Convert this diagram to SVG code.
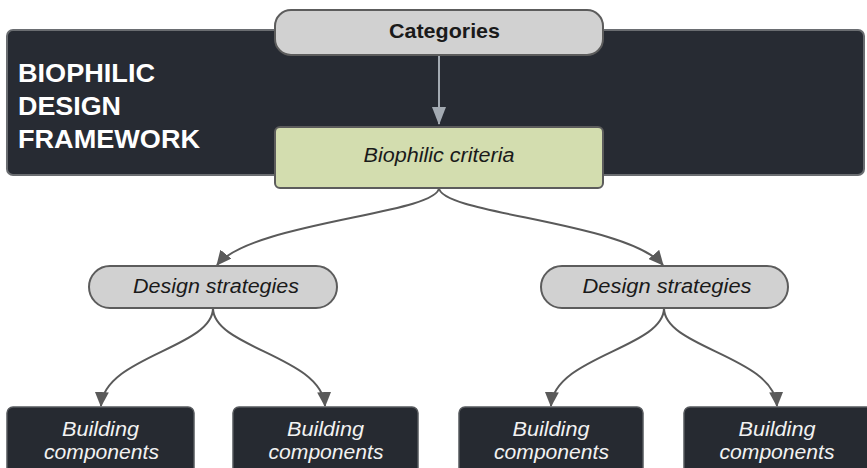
<svg xmlns="http://www.w3.org/2000/svg" width="867" height="468" viewBox="0 0 867 468">
  <style>
    .panel { fill: #272b33; stroke: #6a6d71; stroke-width: 2; }
    .pill { fill: #d1d1d1; stroke: #5c5c5c; stroke-width: 2; }
    .crit { fill: #d3ddaf; stroke: #5c5c5c; stroke-width: 2; }
    .bc { fill: #262a31; stroke: #56595d; stroke-width: 1.5; }
    .title { font-family: "Liberation Sans", Arial, sans-serif; font-weight: bold; font-size: 25px; fill: #ffffff; }
    .bold { font-family: "Liberation Sans", Arial, sans-serif; font-weight: bold; font-size: 20.5px; fill: #1a1a1a; }
    .ital { font-family: "Liberation Sans", Arial, sans-serif; font-style: italic; font-size: 20px; fill: #1a1a1a; }
    .ital-w { font-family: "Liberation Sans", Arial, sans-serif; font-style: italic; font-size: 20.5px; fill: #f2f2f2; }
    .link { fill: none; stroke: #5a5a5a; stroke-width: 2; }
    .link-light { fill: none; stroke: #a3aab2; stroke-width: 2; }
  </style>
  <defs>
    <marker id="arrow" viewBox="0 0 15 14" refX="14" refY="7" markerWidth="15" markerHeight="14" markerUnits="userSpaceOnUse" orient="auto">
      <path d="M0,0 L15,7 L0,14 Z" fill="#5a5a5a"/>
    </marker>
    <marker id="arrow-light" viewBox="0 0 18 14" refX="17" refY="7" markerWidth="18" markerHeight="14" markerUnits="userSpaceOnUse" orient="auto">
      <path d="M0,0 L18,7 L0,14 Z" fill="#a3aab2"/>
    </marker>
  </defs>

  <rect width="867" height="468" fill="#ffffff"/>

  <!-- framework backdrop -->
  <g id="framework">
    <rect class="panel" x="7" y="30" width="857" height="145" rx="6"/>
    <text class="title" x="18" y="82" textLength="137" lengthAdjust="spacingAndGlyphs">BIOPHILIC</text>
    <text class="title" x="18" y="115" textLength="103" lengthAdjust="spacingAndGlyphs">DESIGN</text>
    <text class="title" x="18" y="148" textLength="182" lengthAdjust="spacingAndGlyphs">FRAMEWORK</text>
  </g>

  <!-- connectors -->
  <g id="connectors">
    <path class="link-light" d="M439,55 L439,124" marker-end="url(#arrow-light)"/>
    <path class="link" d="M439,188 C437,214 252,222 217,265" marker-end="url(#arrow)"/>
    <path class="link" d="M439,188 C441,214 626,222 663,265" marker-end="url(#arrow)"/>
    <path class="link" d="M213,308 C213,348 104,356 101,406" marker-end="url(#arrow)"/>
    <path class="link" d="M213,308 C213,348 322,356 325,406" marker-end="url(#arrow)"/>
    <path class="link" d="M664,308 C664,348 554,356 551,406" marker-end="url(#arrow)"/>
    <path class="link" d="M664,308 C664,348 774,356 777,406" marker-end="url(#arrow)"/>
  </g>

  <g id="categories">
    <rect class="pill" x="275" y="10" width="328" height="45" rx="16"/>
    <text class="bold" x="444.5" y="38" text-anchor="middle" textLength="111" lengthAdjust="spacingAndGlyphs">Categories</text>
  </g>

  <g id="criteria">
    <rect class="crit" x="275" y="127" width="328" height="61" rx="5"/>
    <text class="ital" x="439" y="162" text-anchor="middle" textLength="151" lengthAdjust="spacingAndGlyphs">Biophilic criteria</text>
  </g>

  <g id="strategies-left">
    <rect class="pill" x="89" y="266" width="248" height="42" rx="21"/>
    <text class="ital" x="216" y="293" text-anchor="middle" textLength="166" lengthAdjust="spacingAndGlyphs">Design strategies</text>
  </g>

  <g id="strategies-right">
    <rect class="pill" x="541" y="266" width="247" height="42" rx="21"/>
    <text class="ital" x="667" y="293" text-anchor="middle" textLength="169" lengthAdjust="spacingAndGlyphs">Design strategies</text>
  </g>

  <g id="components-1">
    <rect class="bc" x="7" y="407" width="187" height="70" rx="6"/>
    <text class="ital-w" x="100.5" y="436" text-anchor="middle" textLength="77" lengthAdjust="spacingAndGlyphs">Building</text>
    <text class="ital-w" x="101.5" y="459" text-anchor="middle" textLength="115" lengthAdjust="spacingAndGlyphs">components</text>
  </g>

  <g id="components-2">
    <rect class="bc" x="233" y="407" width="185" height="70" rx="6"/>
    <text class="ital-w" x="325.5" y="436" text-anchor="middle" textLength="77" lengthAdjust="spacingAndGlyphs">Building</text>
    <text class="ital-w" x="326" y="459" text-anchor="middle" textLength="115" lengthAdjust="spacingAndGlyphs">components</text>
  </g>

  <g id="components-3">
    <rect class="bc" x="459" y="407" width="184" height="70" rx="6"/>
    <text class="ital-w" x="551" y="436" text-anchor="middle" textLength="77" lengthAdjust="spacingAndGlyphs">Building</text>
    <text class="ital-w" x="551.5" y="459" text-anchor="middle" textLength="115" lengthAdjust="spacingAndGlyphs">components</text>
  </g>

  <g id="components-4">
    <rect class="bc" x="684" y="407" width="190" height="70" rx="6"/>
    <text class="ital-w" x="777" y="436" text-anchor="middle" textLength="77" lengthAdjust="spacingAndGlyphs">Building</text>
    <text class="ital-w" x="777" y="459" text-anchor="middle" textLength="115" lengthAdjust="spacingAndGlyphs">components</text>
  </g>
</svg>
